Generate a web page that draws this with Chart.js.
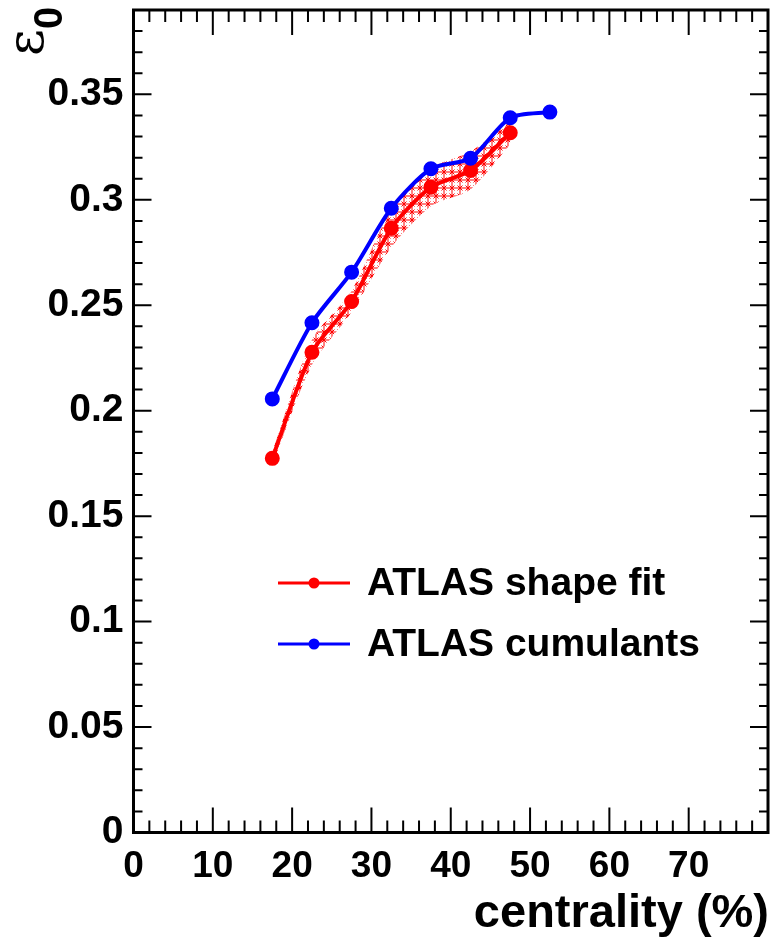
<!DOCTYPE html>
<html>
<head>
<meta charset="utf-8">
<script src="https://cdn.jsdelivr.net/npm/chart.js@4.4.1/dist/chart.umd.min.js"></script>
<style>
  html, body { margin: 0; padding: 0; background: #fff; }
  canvas { display: block; }
</style>
</head>
<body>
<canvas id="eps" width="772" height="941"></canvas>
<script>
// centrality bins (%)
const shapeCent = [17.5, 22.5, 27.5, 32.5, 37.5, 42.5, 47.5];
const shapeFit = [0.1774, 0.2277, 0.2518, 0.2865, 0.3060, 0.3139, 0.3318];
const shapeFitErr = [0.003, 0.006, 0.005, 0.009, 0.009, 0.009, 0.0055];

const cumCent = [17.5, 22.5, 27.5, 32.5, 37.5, 42.5, 47.5, 52.5];
const cumulants = [0.2056, 0.2417, 0.2657, 0.2960, 0.3147, 0.3197, 0.3389, 0.3416];

const legendLabels = ["ATLAS shape fit", "ATLAS cumulants"];
const xTitle = "centrality (%)";

const FONT = '"Liberation Sans", Arial, Helvetica, sans-serif';

function pts(xs, ys) {
  return xs.map((x, i) => ({ x: x, y: ys[i] }));
}
const bandHi = shapeFit.map((v, i) => v + shapeFitErr[i]);
const bandLo = shapeFit.map((v, i) => v - shapeFitErr[i]);

// hatch pattern for the error band
function hatch() {
  const c = document.createElement("canvas");
  c.width = 8; c.height = 8;
  const g = c.getContext("2d");
  g.strokeStyle = "#ff0000";
  g.lineWidth = 1;
  g.beginPath();
  g.moveTo(4, 0); g.lineTo(4, 8);
  g.moveTo(0, 4); g.lineTo(8, 4);
  g.moveTo(1.5, 1.5); g.lineTo(6.5, 6.5);
  g.moveTo(1.5, 6.5); g.lineTo(6.5, 1.5);
  g.stroke();
  return g.createPattern(c, "repeat");
}

function noPad(s) {
  s.paddingTop = 0; s.paddingBottom = 0;
  s.paddingLeft = 0; s.paddingRight = 0;
}

const deco = {
  id: "deco",
  afterDraw(chart) {
    const ctx = chart.ctx;
    const a = chart.chartArea;
    const xs = chart.scales.x, ys = chart.scales.y;
    ctx.save();
    ctx.strokeStyle = "#000";
    // ticks
    ctx.lineWidth = 2;
    ctx.beginPath();
    xs.ticks.forEach(t => {
      const px = xs.getPixelForValue(t.value);
      const len = Math.round(t.value) % 10 === 0 ? 25 : 12;
      ctx.moveTo(px, a.bottom); ctx.lineTo(px, a.bottom - len);
      ctx.moveTo(px, a.top); ctx.lineTo(px, a.top + len);
    });
    ys.ticks.forEach(t => {
      const py = ys.getPixelForValue(t.value);
      const len = Math.round(t.value * 100) % 5 === 0 ? 18 : 9;
      ctx.moveTo(a.left, py); ctx.lineTo(a.left + len, py);
      ctx.moveTo(a.right, py); ctx.lineTo(a.right - len, py);
    });
    ctx.stroke();
    // frame
    ctx.lineWidth = 3;
    ctx.strokeRect(a.left, a.top, a.right - a.left, a.bottom - a.top);

    // x title
    ctx.fillStyle = "#000";
    ctx.font = "bold 47px " + FONT;
    ctx.textAlign = "right";
    ctx.textBaseline = "alphabetic";
    ctx.fillText(xTitle, 769, 927);

    // y title: epsilon with subscript 0, rotated
    ctx.save();
    ctx.translate(43, 56);
    ctx.rotate(-Math.PI / 2);
    ctx.textAlign = "left";
    ctx.font = '52px "DejaVu Serif", "Liberation Serif", serif';
    ctx.fillText("\u03b5", 0, 0);
    ctx.font = "bold 40px " + FONT;
    ctx.fillText("0", 27, 19);
    ctx.restore();

    // legend
    const colors = ["#ff0000", "#0000ff"];
    const rowsY = [583, 644];
    ctx.textAlign = "left";
    ctx.textBaseline = "middle";
    ctx.font = "bold 39px " + FONT;
    legendLabels.forEach((lab, i) => {
      const y = rowsY[i];
      ctx.strokeStyle = colors[i];
      ctx.lineWidth = 3;
      ctx.beginPath();
      ctx.moveTo(278, y); ctx.lineTo(350, y);
      ctx.stroke();
      ctx.fillStyle = colors[i];
      ctx.beginPath();
      ctx.arc(314, y, 5.5, 0, Math.PI * 2);
      ctx.fill();
      ctx.fillStyle = "#000";
      ctx.fillText(lab, 367, y + 1);
    });
    ctx.restore();
  }
};

const ctx = document.getElementById("eps").getContext("2d");
const chart = new Chart(ctx, {
  type: "line",
  data: {
    datasets: [
      {
        label: legendLabels[1],
        data: pts(cumCent, cumulants),
        borderColor: "#0000ff",
        backgroundColor: "#0000ff",
        borderWidth: 4,
        pointRadius: 5.5,
        tension: 0.25,
        fill: false
      },
      {
        label: legendLabels[0],
        data: pts(shapeCent, shapeFit),
        borderColor: "#ff0000",
        backgroundColor: "#ff0000",
        borderWidth: 4,
        pointRadius: 5.5,
        tension: 0.25,
        fill: false
      },
      {
        label: "band hi",
        data: pts(shapeCent, bandHi),
        borderWidth: 0,
        pointRadius: 0,
        tension: 0.25,
        fill: false
      },
      {
        label: "band lo",
        data: pts(shapeCent, bandLo),
        borderWidth: 0,
        pointRadius: 0,
        tension: 0.25,
        backgroundColor: hatch(),
        fill: "-1"
      }
    ]
  },
  options: {
    responsive: false,
    animation: false,
    layout: { autoPadding: false, padding: { top: 10, right: 4, left: 0, bottom: 0 } },
    plugins: {
      legend: { display: false },
      tooltip: { enabled: false }
    },
    scales: {
      x: {
        type: "linear",
        min: 0,
        max: 80,
        grid: { display: false, drawTicks: false },
        border: { display: false },
        afterFit: s => { s.height = 108.5; noPad(s); },
        ticks: {
          stepSize: 2,
          autoSkip: false,
          maxRotation: 0,
          padding: 12,
          color: "#000",
          font: { family: FONT, size: 37, weight: "bold" },
          callback: v => (Math.round(v) % 10 === 0 && v < 80 ? String(Math.round(v)) : "")
        }
      },
      y: {
        min: 0,
        max: 0.39,
        grid: { display: false, drawTicks: false },
        border: { display: false },
        afterFit: s => { s.width = 133.5; noPad(s); },
        ticks: {
          stepSize: 0.01,
          autoSkip: false,
          padding: 10,
          color: "#000",
          font: { family: FONT, size: 39, weight: "bold" },
          callback: v => {
            const k = Math.round(v * 100);
            if (k % 5 !== 0) return "";
            return k === 0 ? "0" : String(k / 100);
          }
        }
      }
    }
  },
  plugins: [deco]
});
</script>
</body>
</html>
